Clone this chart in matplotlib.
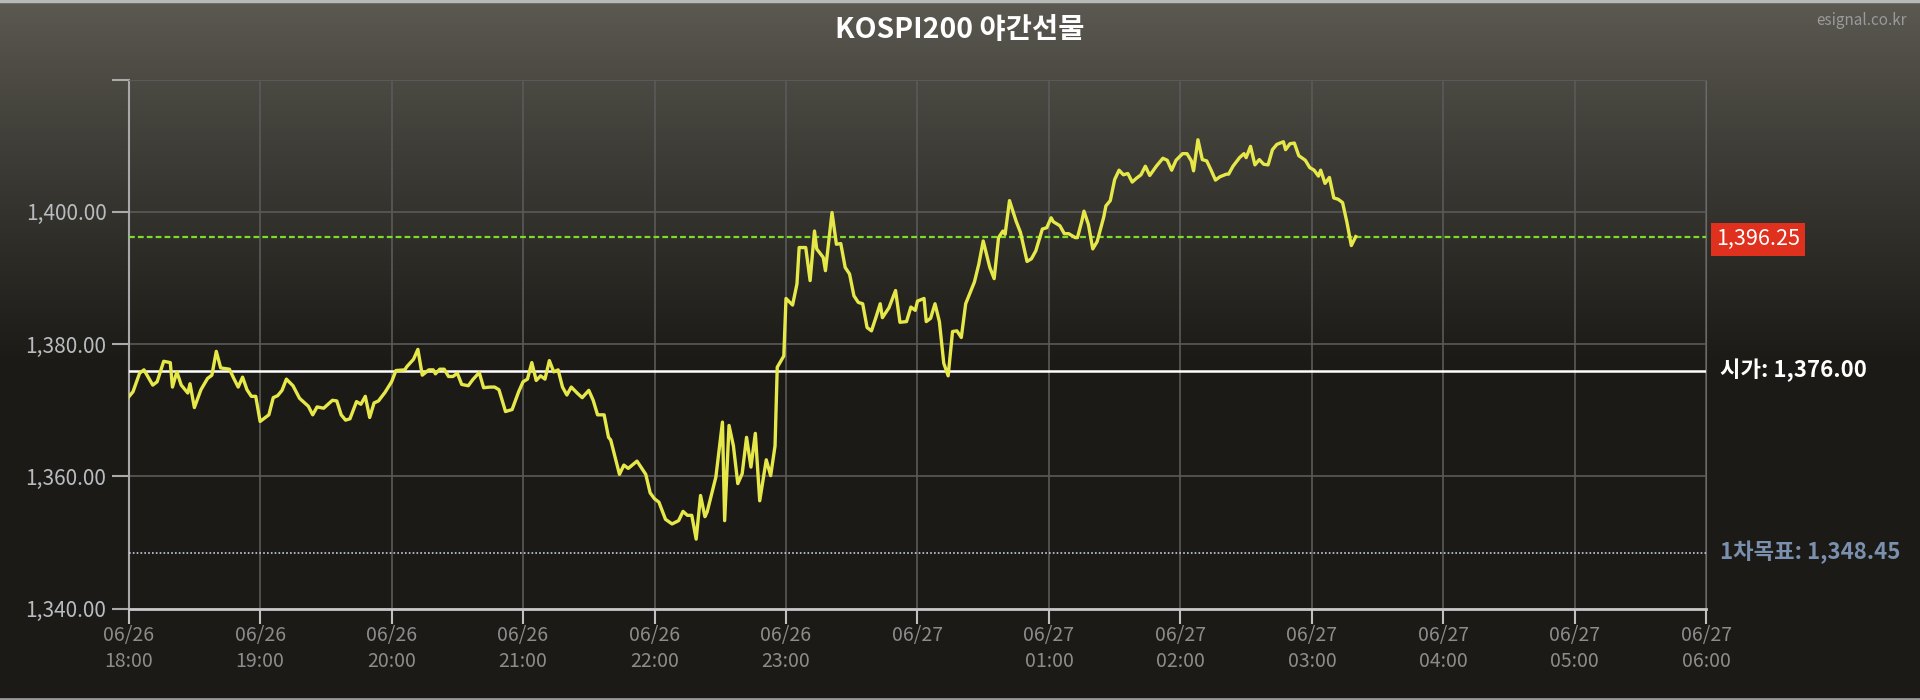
import numpy as np
import matplotlib
matplotlib.use("Agg")
import matplotlib.pyplot as plt
from matplotlib.lines import Line2D

plt.rcParams['font.family'] = ['Noto Sans CJK KR', 'DejaVu Sans']

# minutes after 06/26 18:00 and price
minutes = [
    0, 2, 5, 7, 11, 13, 16, 19, 20, 22, 24, 27, 28, 30, 33, 36, 38, 40, 42, 46,
    48, 50, 52, 54, 56, 58, 60, 64, 66, 68, 70, 72, 75, 78, 81, 82, 84, 86, 89, 90,
    93, 95, 97, 99, 101, 104, 106, 108, 110, 112, 114, 117, 120, 122, 126, 127, 130, 132, 134, 137,
    139, 140, 142, 144, 146, 148, 150, 152, 155, 157, 160, 162, 165, 167, 169, 172, 175, 178, 180, 182,
    184, 186, 188, 190, 192, 194, 196, 198, 200, 202, 205, 207, 210, 212, 214, 217, 219, 220, 224, 226,
    228, 232, 235, 236, 238, 240, 242, 245, 248, 251, 253, 255, 257, 259, 261, 263, 264, 268, 271, 272,
    274, 276, 278, 280, 282, 284, 286, 288, 291, 293, 295, 296, 299, 300, 303, 305, 306, 309, 311, 313,
    314, 317, 318, 321, 323, 325, 327, 329, 331, 333, 335, 337, 339, 341, 343, 344, 347, 350, 352, 355,
    357, 359, 360, 363, 364, 366, 368, 370, 372, 374, 376, 378, 380, 382, 386, 388, 390, 393, 395, 397,
    399, 400, 402, 405, 407, 410, 412, 414, 417, 419, 421, 422, 425, 427, 429, 432, 433, 435, 436, 438,
    440, 442, 445, 446, 448, 450, 452, 454, 456, 458, 460, 462, 464, 466, 469, 472, 474, 476, 478, 481,
    483, 485, 486, 488, 490, 492, 494, 496, 498, 501, 502, 504, 507, 509, 510, 512, 514, 516, 518, 520,
    522, 524, 527, 528, 530, 532, 534, 537, 539, 541, 543, 544, 546, 548, 550, 552, 554, 556, 558, 560,
]
prices = [
    1372.0, 1372.8, 1375.6, 1376.1, 1373.8, 1374.3, 1377.4, 1377.2, 1373.5, 1375.8,
    1373.8, 1372.6, 1374.0, 1370.4, 1373.1, 1374.8, 1375.3, 1378.9, 1376.4, 1376.2,
    1374.8, 1373.5, 1375.0, 1373.1, 1372.1, 1372.1, 1368.3, 1369.3, 1371.9, 1372.2,
    1373.0, 1374.7, 1373.7, 1371.8, 1370.9, 1370.6, 1369.3, 1370.5, 1370.3, 1370.6,
    1371.5, 1371.4, 1369.3, 1368.5, 1368.7, 1371.3, 1370.9, 1372.1, 1368.9, 1371.1,
    1371.4, 1372.7, 1374.3, 1376.0, 1376.1, 1376.6, 1377.7, 1379.2, 1375.3, 1376.1,
    1376.1, 1375.5, 1376.2, 1376.2, 1375.1, 1375.1, 1375.6, 1373.9, 1373.7, 1374.6,
    1375.7, 1373.4, 1373.5, 1373.5, 1373.1, 1369.8, 1370.1, 1372.8, 1374.3, 1374.7,
    1377.2, 1374.5, 1375.2, 1374.7, 1377.5, 1375.8, 1376.1, 1373.5, 1372.3, 1373.5,
    1372.5, 1371.9, 1373.0, 1371.5, 1369.3, 1369.3, 1365.9, 1365.5, 1360.3, 1361.7,
    1361.2, 1362.3, 1360.8, 1360.3, 1357.5, 1356.6, 1356.1, 1353.5, 1352.8, 1353.3,
    1354.7, 1354.1, 1354.1, 1350.5, 1357.1, 1353.9, 1354.6, 1359.9, 1368.2, 1353.3,
    1367.7, 1364.6, 1358.9, 1360.4, 1365.9, 1361.4, 1366.5, 1356.3, 1362.5, 1360.1,
    1364.6, 1376.5, 1378.2, 1386.9, 1385.9, 1389.1, 1394.6, 1394.6, 1389.6, 1397.1,
    1394.4, 1393.1, 1391.1, 1399.9, 1395.1, 1395.2, 1391.6, 1390.6, 1387.3, 1386.3,
    1386.1, 1382.5, 1382.0, 1384.0, 1386.1, 1384.0, 1385.5, 1388.1, 1383.3, 1383.4,
    1385.6, 1385.1, 1386.5, 1386.9, 1383.4, 1383.9, 1386.1, 1383.4, 1377.1, 1375.2,
    1381.9, 1382.0, 1381.0, 1386.1, 1389.4, 1392.1, 1395.6, 1391.6, 1389.9, 1396.1,
    1397.1, 1396.6, 1401.7, 1398.6, 1396.9, 1392.5, 1392.9, 1394.1, 1397.4, 1397.6,
    1399.1, 1398.5, 1397.9, 1396.7, 1396.7, 1396.1, 1396.1, 1398.6, 1400.1, 1398.1,
    1394.4, 1395.5, 1399.2, 1400.9, 1401.7, 1404.9, 1406.3, 1405.6, 1405.8, 1404.5,
    1405.1, 1405.6, 1406.9, 1405.5, 1406.9, 1408.1, 1407.8, 1406.3, 1407.8, 1408.8,
    1408.8, 1407.7, 1406.2, 1410.9, 1407.9, 1407.7, 1406.3, 1404.8, 1405.3, 1405.7,
    1405.7, 1406.9, 1408.2, 1408.8, 1408.2, 1409.9, 1407.1, 1407.9, 1407.2, 1407.1,
    1409.4, 1410.2, 1410.6, 1409.4, 1410.3, 1410.4, 1408.5, 1407.8, 1406.7, 1406.3,
    1405.4, 1406.3, 1404.3, 1405.2, 1402.1, 1401.9, 1401.4, 1398.4, 1394.9, 1396.25,
]

open_price = 1376.00
last_price = 1396.25
target_price = 1348.45

y_ticks = [1340, 1360, 1380, 1400, 1420]
y_labels = ['1,340.00', '1,360.00', '1,380.00', '1,400.00', '']
x_ticks = [0, 60, 120, 180, 240, 300, 360, 420, 480, 540, 600, 660, 720]
x_labels = ['06/26\n18:00', '06/26\n19:00', '06/26\n20:00', '06/26\n21:00', '06/26\n22:00',
            '06/26\n23:00', '06/27', '06/27\n01:00', '06/27\n02:00', '06/27\n03:00',
            '06/27\n04:00', '06/27\n05:00', '06/27\n06:00']

fig = plt.figure(figsize=(19.2, 7), dpi=100)

# background gradient
bg = fig.add_axes([0, 0, 1, 1], zorder=-10)
t = np.clip(np.linspace(0, 1, 700) / 0.52, 0, 1) ** 0.9
top_c = np.array([92, 90, 82]) / 255
bot_c = np.array([27, 26, 22]) / 255
grad = top_c[None, :] * (1 - t[:, None]) + bot_c[None, :] * t[:, None]
bg.imshow(np.repeat(grad[:, None, :], 2, axis=1), aspect='auto', extent=[0, 1, 0, 1])
bg.axis('off')
fig.add_artist(Line2D([0, 1], [0.998, 0.998], color='#b8b8b8', lw=2.5))
fig.add_artist(Line2D([0, 1], [0.002, 0.002], color='#9a9a9a', lw=2))

ax = fig.add_axes([0.067, 0.1306, 0.8217, 0.7557])
ax.set_facecolor('none')
ax.set_xlim(0, 720)
ax.set_ylim(1340, 1420)

ax.grid(True, color='#5a5a5a', lw=1.2)
ax.set_axisbelow(True)

ax.axhline(open_price, color='white', lw=1.8, zorder=3)
ax.axhline(last_price, color='#7ddc2a', lw=1.6, ls=(0, (2.6, 1.4)), zorder=3)
ax.axhline(target_price, color='#c5cede', lw=1.2, ls=(0, (1, 1.3)), zorder=3)

ax.plot(minutes, prices, color='#e6e84a', lw=2.4, zorder=4)

ax.set_yticks(y_ticks)
ax.set_yticklabels(y_labels)
ax.set_xticks(x_ticks)
ax.set_xticklabels(x_labels, linespacing=1.3)
ax.tick_params(axis='y', direction='out', length=12, width=1.5, color='#aaaaaa',
               labelcolor='#b8bcc0', labelsize=15, pad=4)
ax.tick_params(axis='x', direction='out', length=11, width=1.5, color='#c0c0c0',
               labelcolor='#8c8c8c', labelsize=14, pad=1)

ax.spines['left'].set_color('#a8a8a8')
ax.spines['left'].set_linewidth(1.5)
ax.spines['bottom'].set_color('#c8c8c8')
ax.spines['bottom'].set_linewidth(2)
ax.spines['top'].set_color('#5a5a5a')
ax.spines['right'].set_color('#6a6a6a')

ax.annotate('1,396.25', xy=(1, last_price), xycoords=('axes fraction', 'data'),
            xytext=(7, -2), textcoords='offset points', ha='left', va='center',
            color='white', fontsize=15.5,
            bbox=dict(boxstyle='square,pad=0.25', fc='#e0301e', ec='none'))
ax.annotate('시가: 1,376.00', xy=(1, open_price), xycoords=('axes fraction', 'data'),
            xytext=(10, 0), textcoords='offset points', ha='left', va='center',
            color='white', fontsize=16, fontweight='bold')
ax.annotate('1차목표: 1,348.45', xy=(1, target_price), xycoords=('axes fraction', 'data'),
            xytext=(10, 0), textcoords='offset points', ha='left', va='center',
            color='#7a90ae', fontsize=16, fontweight='bold')

fig.text(0.5, 0.957, 'KOSPI200 야간선물', ha='center', va='center',
         color='white', fontsize=20.5, fontweight='bold')
fig.text(0.993, 0.971, 'esignal.co.kr', ha='right', va='center',
         color='#9a9a9a', fontsize=11)

fig.savefig('out.png', dpi=100)
